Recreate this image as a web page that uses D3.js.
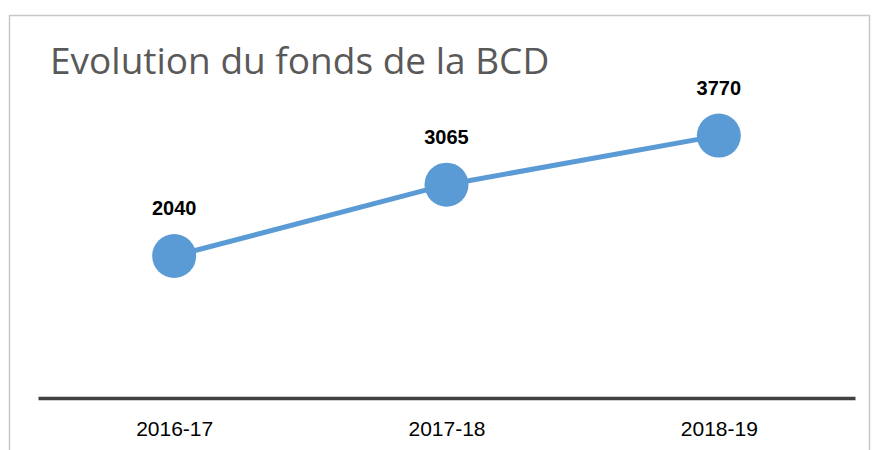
<!DOCTYPE html>
<html>
<head>
<meta charset="utf-8">
<script src="https://cdn.jsdelivr.net/npm/d3@7"></script>
<style>
  body { margin: 0; background: #fff; }
  svg { display: block; }
</style>
</head>
<body>
<div id="chart"></div>
<script>
// data
const categories = ["2016-17", "2017-18", "2018-19"];
const values = [2040, 3065, 3770];
const title = "Evolution du fonds de la BCD";

const W = 874, H = 450;
let margin = {top: 50, right: 19, bottom: 52, left: 38},
    width = W - margin.left - margin.right,
    height = H - margin.top - margin.bottom;

let svg = d3.select("#chart")
    .append("svg")
    .attr("width", W)
    .attr("height", H);

// chart frame (only top, left, right edges visible)
svg.append("path")
    .attr("d", "M9.5,450 V15.5 H869.5 V450")
    .attr("fill", "none")
    .attr("stroke", "#c8c8c8")
    .attr("stroke-width", 1.5);

svg.append("text")
    .attr("x", 50)
    .attr("y", 74)
    .style("font-family", "'Open Sans', sans-serif")
    .style("font-size", "37px")
    .style("fill", "#595959")
    .text(title);

let g = svg.append("g")
    .attr("transform", "translate(" + margin.left + "," + margin.top + ")");

let x = d3.scalePoint()
    .domain(categories)
    .range([0, width])
    .padding(0.5);

let y = d3.scaleLinear()
    .domain([0, 5000])
    .range([height, 0]);

// x axis
let xAxis = g.append("g")
    .attr("transform", "translate(0," + height + ")")
    .call(d3.axisBottom(x).tickSize(0).tickPadding(23));
xAxis.select(".domain")
    .attr("stroke", "#404040")
    .attr("stroke-width", 3.5);
xAxis.selectAll("text")
    .style("font-family", "'Liberation Sans', Arial, sans-serif")
    .style("font-size", "21px")
    .style("fill", "#000");

let data = categories.map((c, i) => ({cat: c, val: values[i]}));

// line
g.append("path")
    .datum(data)
    .attr("fill", "none")
    .attr("stroke", "#5b9bd5")
    .attr("stroke-width", 5)
    .attr("d", d3.line().x(d => x(d.cat)).y(d => y(d.val)));

// dots
g.selectAll("circle")
    .data(data)
    .enter()
    .append("circle")
    .attr("cx", d => x(d.cat))
    .attr("cy", d => y(d.val))
    .attr("r", 22)
    .style("fill", "#5b9bd5");

// value labels
g.selectAll(".lbl")
    .data(data)
    .enter()
    .append("text")
    .attr("class", "lbl")
    .attr("x", d => x(d.cat))
    .attr("y", d => y(d.val) - 41)
    .attr("text-anchor", "middle")
    .style("font-family", "'Liberation Sans', Arial, sans-serif")
    .style("font-weight", "bold")
    .style("font-size", "20px")
    .style("fill", "#000")
    .text(d => d.val);
</script>
</body>
</html>
